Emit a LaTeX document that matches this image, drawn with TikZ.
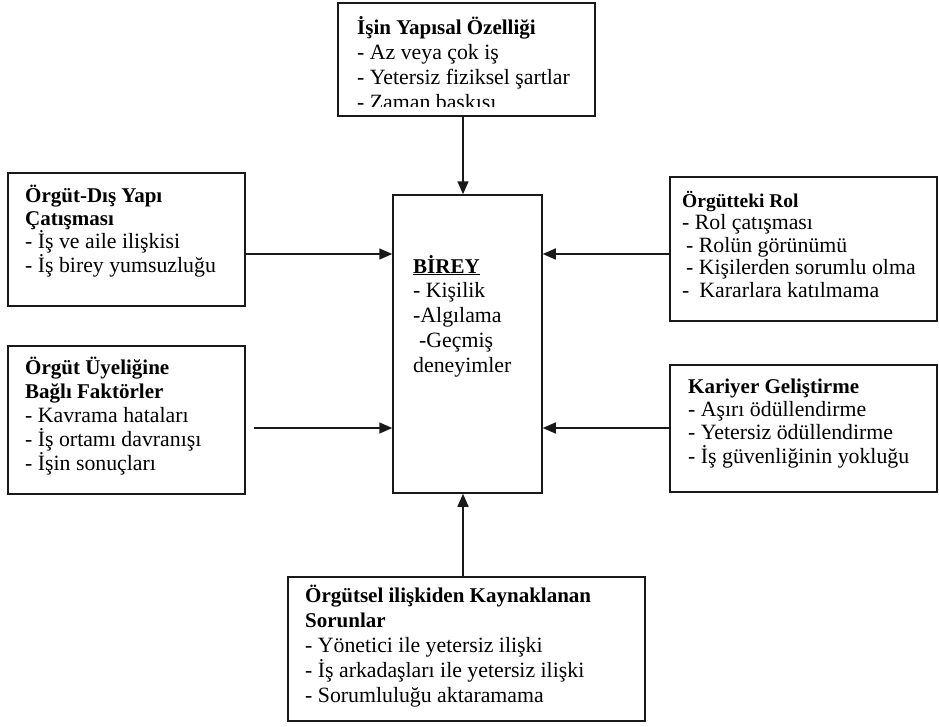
\documentclass[tikz,border=0pt]{standalone}
\usepackage{fontspec}
\setmainfont{Liberation Serif}
\usetikzlibrary{arrows.meta}
% bold heading inside a box, kept at its own size
\newcommand\headtxt[2][21]{{\fontsize{#1}{\baselineskip}\selectfont\textbf{#2}}}
\begin{document}
\begin{tikzpicture}[x=1pt,y=-1pt,
  frame/.style={draw=black!90, line width=1.5pt, inner sep=0pt},
  label/.style={anchor=base west, align=left, inner sep=0pt,
    font=\fontsize{21.8}{#1}\selectfont},
  arr/.style={draw=black!90, line width=1.5pt, -{Triangle[length=13pt,width=11pt]}}]
\useasboundingbox (0,0) rectangle (939,726);

% frames
\node[frame, minimum width=257pt, minimum height=113pt] (struct)   at (466.5,59.5) {};
\node[frame, minimum width=237pt, minimum height=133pt] (extconf)  at (126.5,239.5) {};
\node[frame, minimum width=237pt, minimum height=148pt] (member)   at (126.5,420) {};
\node[frame, minimum width=149pt, minimum height=298pt] (birey)    at (467.5,344) {};
\node[frame, minimum width=267pt, minimum height=144pt] (role)     at (803.5,249) {};
\node[frame, minimum width=267pt, minimum height=127pt] (career)   at (803.5,428.5) {};
\node[frame, minimum width=357pt, minimum height=144pt] (relation) at (466.5,649) {};

% texts (each placed at the baseline of its last line)
\begin{scope}
  % the last line of this box runs into the frame's inner margin and is cut
  \clip (340,5) rectangle (593,106.5);
  \node[label=25] (structtext) at (357,109.5)
    {\headtxt{İşin Yapısal Özelliği}\\- Az veya çok iş\\- Yetersiz fiziksel şartlar\\- Zaman baskısı};
\end{scope}
\node[label=23.3] (extconftext) at (25,272)
  {\headtxt{Örgüt-Dış Yapı}\\\headtxt{Çatışması}\\- İş ve aile ilişkisi\\- İş birey yumsuzluğu};
\node[label=23.8] (membertext) at (25,470)
  {\headtxt{Örgüt Üyeliğine}\\\headtxt{Bağlı Faktörler}\\- Kavrama hataları\\- İş ortamı davranışı\\- İşin sonuçları};
\node[label=24.75] (bireytext) at (413,372)
  {\underline{\headtxt{BİREY}}\\- Kişilik\\-Algılama\\\hspace*{6pt}-Geçmiş\\deneyimler};
\node[label=22.5] (roletext) at (682,297)
  {\headtxt[19.5]{Örgütteki Rol}\\- Rol çatışması\\\hspace*{4pt}- Rolün görünümü\\\hspace*{4pt}- Kişilerden sorumlu olma\\-\hspace*{10pt}Kararlara katılmama};
\node[label=23.3] (careertext) at (688,463)
  {\headtxt{Kariyer Geliştirme}\\- Aşırı ödüllendirme\\- Yetersiz ödüllendirme\\- İş güvenliğinin yokluğu};
\node[label=25] (relationtext) at (305,702)
  {\headtxt{Örgütsel ilişkiden Kaynaklanan}\\\headtxt{Sorunlar}\\- Yönetici ile yetersiz ilişki\\- İş arkadaşları ile yetersiz ilişki\\- Sorumluluğu aktaramama};

% arrow rows and column
\coordinate (rowA) at (0,254);
\coordinate (rowB) at (0,428);
\coordinate (colA) at (463,0);

\draw[arr] (struct.south -| colA) -- (birey.north -| colA);
\draw[arr] (relation.north -| colA) -- (birey.south -| colA);
\draw[arr] (extconf.east |- rowA) -- (birey.west |- rowA);
\draw[arr] (role.west |- rowA) -- (birey.east |- rowA);
\draw[arr, shorten <=8pt] (member.east |- rowB) -- (birey.west |- rowB);
\draw[arr] (career.west |- rowB) -- (birey.east |- rowB);
\end{tikzpicture}
\end{document}
